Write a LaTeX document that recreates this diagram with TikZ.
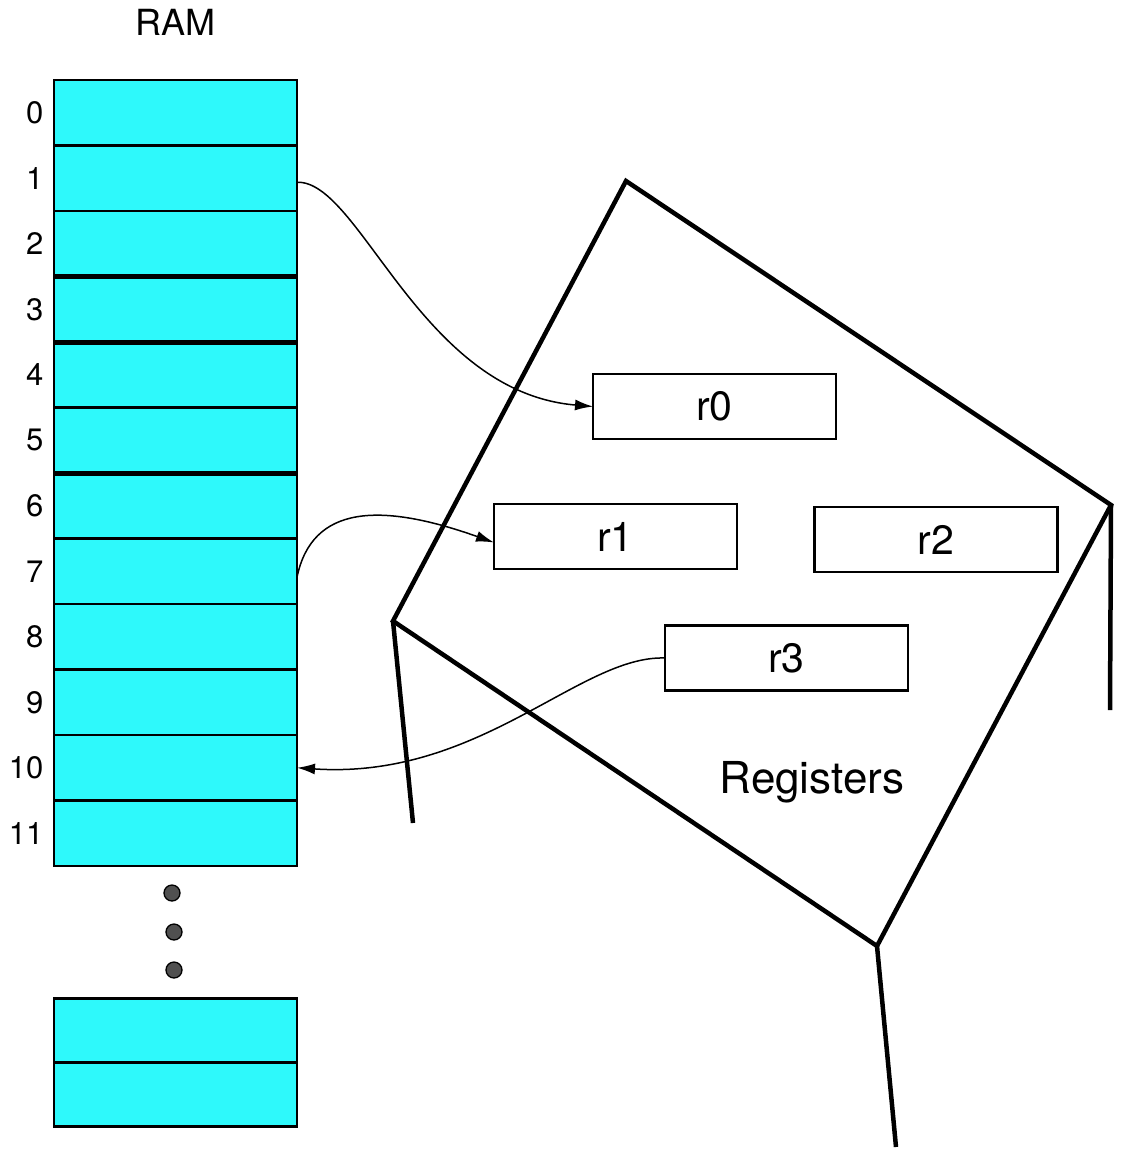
\documentclass[tikz,border=0pt]{standalone}
\usepackage{fontspec}
\setmainfont{TeX Gyre Heros}
\usetikzlibrary{positioning,arrows.meta}

\definecolor{ramcyan}{RGB}{46,249,251}
\definecolor{dotgray}{RGB}{80,80,80}

\tikzset{
  cell/.style={draw, fill=ramcyan, line width=2.2pt, minimum width=243pt,
    minimum height=65.5pt, inner sep=0pt, outer sep=0pt},
  idx/.style={font=\fontsize{31}{37}\selectfont, xshift=-7pt},
  sep/.style={line width=5pt},
  dot/.style={circle, draw, fill=dotgray, line width=1.3pt, minimum size=16pt, inner sep=0pt},
  frame/.style={line width=4.5pt},
  reg/.style={draw, line width=2.2pt, minimum width=243pt, minimum height=65pt,
    inner sep=0pt, outer sep=0pt, font=\fontsize{41}{49}\selectfont},
  move/.style={line width=1.5pt, -{Latex[length=18pt,width=11pt]}},
}

\begin{document}
\begin{tikzpicture}[x=1pt, y=-1pt]
  \useasboundingbox (0,0) rectangle (1123,1149);

  % memory
  \node[cell, label={[idx]left:0}] (m0) at (175.5,112.75) {};
  \node[cell, below=0pt of m0, label={[idx]left:1}] (m1) {};
  \node[cell, below=0pt of m1, label={[idx]left:2}] (m2) {};
  \node[cell, below=0pt of m2, label={[idx]left:3}] (m3) {};
  \node[cell, below=0pt of m3, label={[idx]left:4}] (m4) {};
  \node[cell, below=0pt of m4, label={[idx]left:5}] (m5) {};
  \node[cell, below=0pt of m5, label={[idx]left:6}] (m6) {};
  \node[cell, below=0pt of m6, label={[idx]left:7}] (m7) {};
  \node[cell, below=0pt of m7, label={[idx]left:8}] (m8) {};
  \node[cell, below=0pt of m8, label={[idx]left:9}] (m9) {};
  \node[cell, below=0pt of m9, label={[idx]left:10}] (m10) {};
  \node[cell, below=0pt of m10, label={[idx]left:11}] (m11) {};
  \node[above=41pt of m0, font=\fontsize{36}{43}\selectfont] (ram) {RAM};

  \draw[sep] (m2.south west) -- (m2.south east);
  \draw[sep] (m3.south west) -- (m3.south east);
  \draw[sep] (m5.south west) -- (m5.south east);

  \node[dot] (d1) at (172,893) {};
  \node[dot] (d2) at (174,932) {};
  \node[dot] (d3) at (174,970) {};

  \node[cell, minimum height=64pt] (mx) at (175.5,1030.5) {};
  \node[cell, minimum height=64pt, below=0pt of mx] (my) {};

  % register file
  \coordinate (ptop) at (626,181);
  \coordinate (pright) at (1111,505);
  \coordinate (pbot) at (877,946);
  \coordinate (pleft) at (393,621);
  \coordinate (legl) at (413,823);
  \coordinate (legr) at (1110,710);
  \coordinate (legb) at (896,1147);
  \draw[frame] (ptop) -- (pright) -- (pbot) -- (pleft) -- cycle;
  \draw[frame] (pleft) -- (legl);
  \draw[frame] (pright) -- (legr);
  \draw[frame] (pbot) -- (legb);

  \node[reg] (r0) at (714.5,406.5) {r0};
  \node[reg] (r1) at (615.5,536.5) {r1};
  \node[reg] (r2) at (936,539.5) {r2};
  \node[reg] (r3) at (786.5,658) {r3};
  \node[font=\fontsize{44}{53}\selectfont] (regs) at (812,782) {Registers};

  % loads and stores
  \draw[move] ([yshift=-4pt]m1.east) .. controls (360,180) and (420,392) .. (r0.west);
  \draw[move] ([yshift=-6pt]m7.east) .. controls (312,505) and (380,502) .. ([yshift=-6pt]r1.west);
  \draw[move] (r3.west) .. controls (580,655) and (480,780) .. (m10.east);
\end{tikzpicture}
\end{document}
